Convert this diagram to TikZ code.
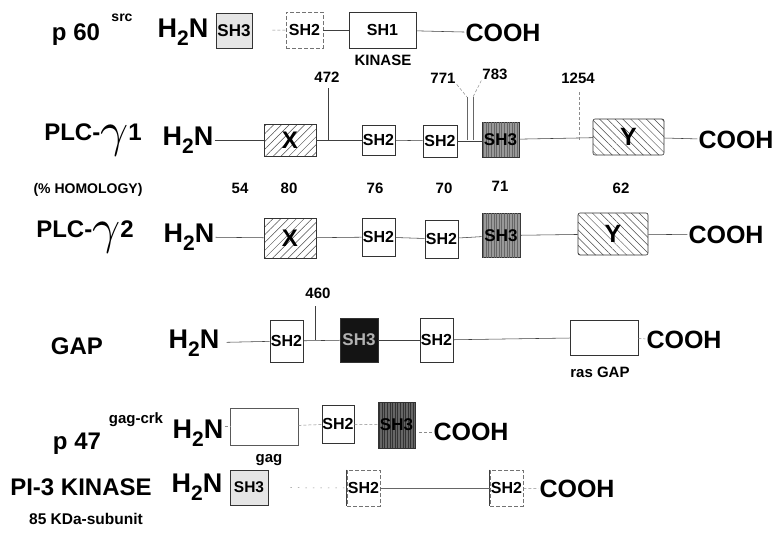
\documentclass[tikz,border=0pt]{standalone}
\usepackage{graphicx}
\usepackage{fontspec}
\setmainfont{Liberation Sans}
\usetikzlibrary{patterns.meta}
\newcommand{\HtwoN}{H\raisebox{-0.3em}{\fontsize{21}{21}\selectfont 2}N}
\newcommand{\gam}{\raisebox{-0.22em}{\scalebox{4.9}{\fontsize{10}{10}\selectfont$\gamma$}}}
\begin{document}
\begin{tikzpicture}[x=1pt,y=-1pt,
  lbl/.style={font=\fontsize{24}{26}\selectfont\bfseries, inner sep=1pt},
  sml/.style={font=\fontsize{15}{17}\selectfont\bfseries, inner sep=1pt},
  hn/.style={font=\fontsize{27}{28}\selectfont\bfseries, inner sep=1pt},
  cooh/.style={font=\fontsize{25}{26}\selectfont\bfseries, inner sep=1pt},
  dom/.style={draw=black!80, line width=0.6pt, inner sep=0pt, font=\fontsize{16}{16}\selectfont\bfseries},
  shthree/.style={dom, font=\fontsize{17}{17}\selectfont\bfseries},
  stip/.style={postaction={pattern={Lines[angle=90,distance=2.6pt,line width=0.7pt]}, pattern color=#1}},
  hatchx/.style={dom, pattern={Lines[angle=45,distance=5.5pt,line width=0.5pt]}, pattern color=black!70, font=\fontsize{24}{24}\selectfont\bfseries},
  hatchy/.style={dom, rounded corners=2pt, pattern={Lines[angle=-45,distance=5.5pt,line width=0.5pt]}, pattern color=black!70, font=\fontsize{25}{25}\selectfont\bfseries},
  ln/.style={draw=black!75, line width=0.55pt},
  fl/.style={draw=black!45, line width=0.5pt, dash pattern=on 3pt off 2pt},
  faintbox/.style={dom, draw=black!55, dash pattern=on 4pt off 2pt}
]
\useasboundingbox[fill=white] (0,0) rectangle (779,554);

% ---------- row 1: p60 src ----------
\node[lbl] (p60) at (76,35) {p 60};
\node[sml, font=\fontsize{14}{15}\selectfont\bfseries] (src) at (122,18) {src};
\node[hn] (h1) at (183,32) {\HtwoN};
\node[shthree, fill=black!10, minimum width=36pt, minimum height=35pt] (r1sh3) at (234,30.5) {SH3};
\node[faintbox, minimum width=37pt, minimum height=36pt] (r1sh2) at (304.5,30) {SH2};
\node[dom, minimum width=67pt, minimum height=36pt] (r1sh1) at (382.5,30) {SH1};
\node[sml] (kin) at (383,60) {KINASE};
\node[cooh] (c1) at (503,33) {COOH};
\draw[fl, shorten <=20pt] (r1sh3) -- (r1sh2);
\draw[ln] (r1sh2) -- (r1sh1);
\draw[ln] (r1sh1) -- (c1);

% ---------- row 2: PLC-gamma1 ----------
\node[lbl] (plc1) at (93,140) {PLC-\gam1};
\node[hn] (h2) at (188,140) {\HtwoN};
\node[hatchx, minimum width=52pt, minimum height=32pt] (r2x) at (290,140) {X};
\node[dom, minimum width=33pt, minimum height=30pt] (r2sh2a) at (378.5,140) {SH2};
\node[dom, minimum width=34pt, minimum height=32pt] (r2sh2b) at (440,141) {SH2};
\node[shthree, fill=black!40, stip=black!60, minimum width=37pt, minimum height=35pt] (r2sh3) at (500.5,139.5) {SH3};
\node[hatchy, minimum width=71pt, minimum height=36pt] (r2y) at (628.5,137) {Y};
\node[cooh] (c2) at (736,140) {COOH};
\draw[ln] (h2) -- (r2x);
\draw[ln] (r2x) -- (r2sh2a);
\draw[ln] (r2sh2a) -- (r2sh2b);
\draw[ln] (r2sh2b.east) -- (r2sh3.west |- r2sh2b.east);
\draw[ln] (r2sh3) -- (r2y);
\draw[ln] (r2y) -- (c2);
% position markers
\node[sml] (l472) at (327,77) {472};
\coordinate (t472) at (328,88); \coordinate (b472) at (328,140);
\draw[ln] (t472) -- (b472);
\node[sml] (l771) at (443,78) {771};
\node[sml] (l783) at (495,74) {783};
\coordinate (t771) at (467,97); \coordinate (b771) at (467,140);
\coordinate (t783) at (473,97); \coordinate (b783) at (473,140);
\draw[ln, draw=black!60] (t771) -- (b771);
\draw[ln, draw=black!60] (t783) -- (b783);
\draw[fl] (l771.south east) -- (t771);
\draw[fl] (l783.south west) -- (t783);
\node[sml] (l1254) at (578,78) {1254};
\coordinate (t1254) at (579,92); \coordinate (b1254) at (579,140);
\draw[fl] (t1254) -- (b1254);

% ---------- homology ----------
\node[sml, font=\fontsize{14}{15}\selectfont\bfseries] (hom) at (88,190) {(\% HOMOLOGY)};
\node[sml] (n54) at (240,188) {54};
\node[sml] (n80) at (289,188) {80};
\node[sml] (n76) at (375,188) {76};
\node[sml] (n70) at (444,188) {70};
\node[sml] (n71) at (500,186) {71};
\node[sml] (n62) at (621,188) {62};

% ---------- row 3: PLC-gamma2 ----------
\node[lbl] (plc2) at (85,237) {PLC-\gam2};
\node[hn] (h3) at (189,237) {\HtwoN};
\node[hatchx, minimum width=52pt, minimum height=40pt] (r3x) at (290,238) {X};
\node[dom, minimum width=33pt, minimum height=38pt] (r3sh2a) at (378.5,237) {SH2};
\node[dom, minimum width=33pt, minimum height=38pt] (r3sh2b) at (441.5,239) {SH2};
\node[shthree, fill=black!40, stip=black!60, minimum width=38pt, minimum height=44pt] (r3sh3) at (501,235.5) {SH3};
\node[hatchy, minimum width=70pt, minimum height=42pt] (r3y) at (613,234) {Y};
\node[cooh] (c3) at (726,235) {COOH};
\draw[ln] (h3) -- (r3x);
\draw[ln] (r3x) -- (r3sh2a);
\draw[ln] (r3sh2a) -- (r3sh2b);
\draw[ln] (r3sh2b) -- (r3sh3);
\draw[ln] (r3sh3) -- (r3y);
\draw[ln] (r3y) -- (c3);

% ---------- row 4: GAP ----------
\node[lbl] (gap) at (77,346) {GAP};
\node[hn] (h4) at (194,343) {\HtwoN};
\node[dom, minimum width=33pt, minimum height=42pt] (r4sh2a) at (286.5,341) {SH2};
\node[shthree, fill=black!92, text=black!30, minimum width=38pt, minimum height=44pt] (r4sh3) at (359,340) {SH3};
\node[dom, minimum width=33pt, minimum height=44pt] (r4sh2b) at (436.5,340) {SH2};
\node[dom, minimum width=68pt, minimum height=35pt] (r4ras) at (604,337.5) {};
\node[sml] (rasl) at (600,372) {ras GAP};
\node[cooh] (c4) at (684,340) {COOH};
\draw[ln, shorten <=6pt] (h4) -- (r4sh2a);
\draw[ln] (r4sh2a) -- (r4sh3);
\draw[ln] (r4sh3) -- (r4sh2b);
\draw[ln] (r4sh2b) -- (r4ras);
\draw[fl] (r4ras) -- (c4);
\node[sml] (l460) at (318,293) {460};
\coordinate (t460) at (315,306); \coordinate (b460) at (315,340);
\draw[ln] (t460) -- (b460);

% ---------- row 5: p47 gag-crk ----------
\node[lbl] (p47) at (77,444) {p 47};
\node[sml, font=\fontsize{15}{16}\selectfont\bfseries] (gagcrk) at (136,420) {gag-crk};
\node[hn] (h5) at (198,433) {\HtwoN};
\node[dom, draw=black!65, minimum width=68pt, minimum height=37pt] (r5gag) at (264,426.5) {};
\node[sml] (gagl) at (269,460) {gag};
\node[dom, minimum width=32pt, minimum height=38pt] (r5sh2) at (338,424) {SH2};
\node[shthree, fill=black!60, stip=black!80, minimum width=37pt, minimum height=46pt] (r5sh3) at (396.5,425) {SH3};
\node[cooh] (c5) at (471,432) {COOH};
\draw[fl] (h5.east |- r5gag.west) -- (r5gag);
\draw[fl] (r5gag) -- (r5sh2);
\draw[fl] (r5sh2) -- (r5sh3);
\draw[fl, shorten <=4pt] (r5sh3.east |- c5.west) -- (c5);

% ---------- row 6: PI-3 kinase ----------
\node[lbl] (pi3) at (81,487) {PI-3 KINASE};
\node[sml, font=\fontsize{15.5}{16}\selectfont\bfseries] (kda) at (86,519) {85 KDa-subunit};
\node[hn] (h6) at (197,487) {\HtwoN};
\node[dom, fill=black!10, font=\fontsize{15.5}{15}\selectfont\bfseries, minimum width=38pt, minimum height=35pt] (r6sh3) at (249,487.5) {SH3};
\node[faintbox, minimum width=33pt, minimum height=36pt] (r6sh2a) at (363.5,488) {SH2};
\node[faintbox, minimum width=33pt, minimum height=36pt] (r6sh2b) at (506.5,488) {SH2};
\node[cooh] (c6) at (577,489) {COOH};
\draw[ln] (r6sh2a.north west) -- (r6sh2a.south west);
\draw[ln] (r6sh2b.north west) -- (r6sh2b.south west);
\draw[fl, dash pattern=on 1.5pt off 6pt, shorten <=22pt] (r6sh3) -- (r6sh2a);
\draw[ln, draw=black!60] (r6sh2a) -- (r6sh2b);
\draw[fl] (r6sh2b) -- (c6);
\end{tikzpicture}
\end{document}
